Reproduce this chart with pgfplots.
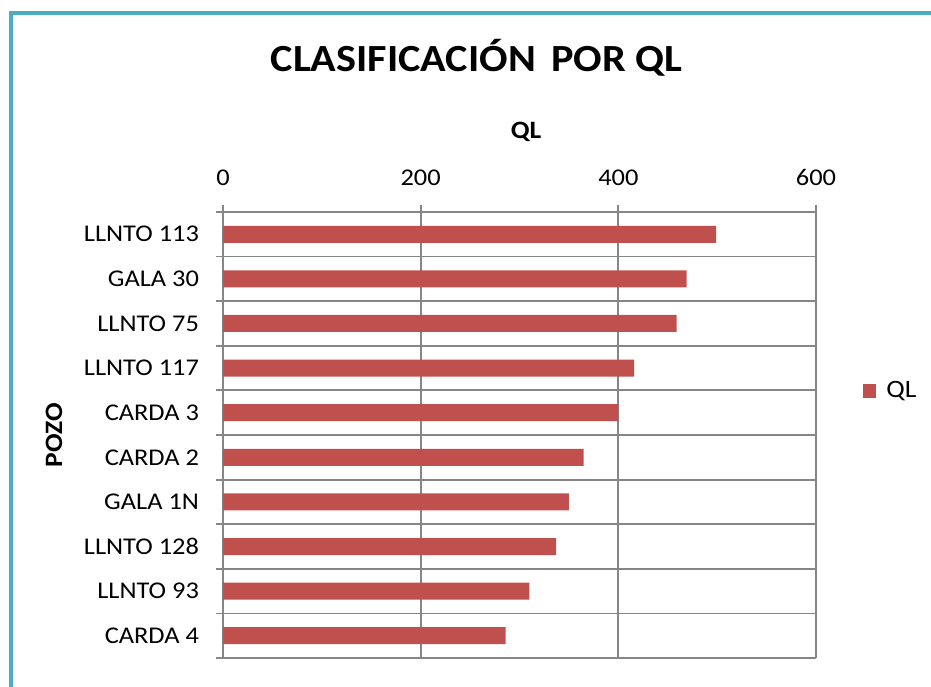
\documentclass[border=0pt]{standalone}
\usepackage{pgfplots}
\pgfplotsset{compat=1.18}
\usepackage{fontspec}
\setmainfont{Carlito}[FakeStretch=1.1]
\definecolor{barred}{HTML}{C0504D}
\definecolor{gridgray}{HTML}{868686}
\definecolor{frameteal}{HTML}{4BACC6}
\begin{document}
\begin{tikzpicture}
\useasboundingbox (0,0) rectangle (465.5pt,343pt);
\draw[frameteal, line width=2pt] (5.5pt,-5pt) -- (5.5pt,336.5pt) -- (465.5pt,336.5pt);
\begin{axis}[
  at={(111.5pt,14pt)}, anchor=south west,
  scale only axis, width=296.5pt, height=223pt,
  xbar, bar width=8.5pt,
  xmin=0, xmax=600, xtick={0,200,400,600},
  ymin=-0.5, ymax=9.5, y dir=reverse,
  axis x line*=top, axis y line*=left,
  axis line style={gridgray, line width=0.9pt, -},
  xticklabel pos=upper,
  tick align=outside, major tick length=3.5pt,
  tick style={gridgray, line width=0.9pt},
  xmajorgrids, ymajorgrids,
  grid style={gridgray, line width=0.9pt},
  ytick={-0.5,0.5,...,9.5}, yticklabels={},
  extra y ticks={0,1,2,3,4,5,6,7,8,9},
  extra y tick labels={LLNTO 113,GALA 30,LLNTO 75,LLNTO 117,CARDA 3,CARDA 2,GALA 1N,LLNTO 128,LLNTO 93,CARDA 4},
  extra y tick style={major tick length=0pt, ymajorgrids=false, yticklabel style={xshift=-8.5pt}},
  /pgf/number format/assume math mode=true,
  ticklabel style={font=\fontsize{12}{14}\selectfont},
  xticklabel style={yshift=6pt},
  legend style={at={(axis description cs:1.078,0.599)}, anchor=west, draw=none, fill=none,
    font=\fontsize{12.5}{14}\selectfont, inner sep=0pt,
    /tikz/every odd column/.append style={column sep=3pt}},
  legend image code/.code={\fill[barred] (0pt,-3.4pt) rectangle (6.8pt,3.4pt);},
]
\addplot[fill=barred, draw=none] coordinates {
  (499,0) (469,1) (459,2) (416,3) (400,4) (365,5) (350,6) (337,7) (310,8) (286,9)};
\addlegendentry{QL}
\end{axis}
\node[anchor=base, font=\fontsize{19.2}{24}\selectfont\bfseries] at (238.25pt,307pt) {CLASIFICACIÓN\hspace{0.15em} POR QL};
\node[anchor=base, font=\fontsize{12.5}{14}\selectfont\bfseries] at (263pt,273.5pt) {QL};
\node[anchor=base, rotate=90, font=\fontsize{12.5}{14}\selectfont\bfseries] at (31pt,125.5pt) {POZO};
\end{tikzpicture}
\end{document}
